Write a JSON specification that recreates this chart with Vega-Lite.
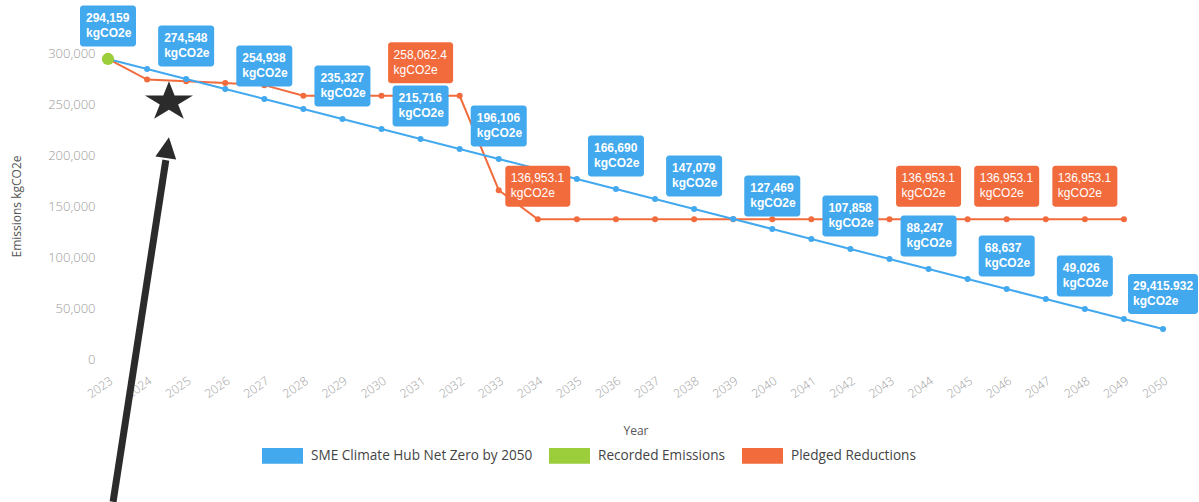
{
  "$schema": "https://vega.github.io/schema/vega-lite/v6.json",
  "autosize": "none",
  "width": 1055,
  "height": 306,
  "padding": {"left": 108, "top": 53, "right": 36, "bottom": 143},
  "background": "white",
  "config": {
    "view": {"stroke": null},
    "axis": {"domain": false, "ticks": false, "tickSize": 0, "grid": false, "labelFont": "Open Sans", "titleFont": "Open Sans", "labelFontWeight": 300, "titleFontWeight": 400},
    "axisX": {"labelOverlap": false, "labelSeparation": 0}
  },
  "datasets": {
    "lines": [
      {"series": "Pledged Reductions", "year": 2023, "value": 294159},
      {"series": "Pledged Reductions", "year": 2024, "value": 274000},
      {"series": "Pledged Reductions", "year": 2025, "value": 272300},
      {"series": "Pledged Reductions", "year": 2026, "value": 270600},
      {"series": "Pledged Reductions", "year": 2027, "value": 268500},
      {"series": "Pledged Reductions", "year": 2028, "value": 258062.4},
      {"series": "Pledged Reductions", "year": 2029, "value": 258062.4},
      {"series": "Pledged Reductions", "year": 2030, "value": 258062.4},
      {"series": "Pledged Reductions", "year": 2031, "value": 258062.4},
      {"series": "Pledged Reductions", "year": 2032, "value": 258062.4},
      {"series": "Pledged Reductions", "year": 2033, "value": 165500},
      {"series": "Pledged Reductions", "year": 2034, "value": 136953.1},
      {"series": "Pledged Reductions", "year": 2035, "value": 136953.1},
      {"series": "Pledged Reductions", "year": 2036, "value": 136953.1},
      {"series": "Pledged Reductions", "year": 2037, "value": 136953.1},
      {"series": "Pledged Reductions", "year": 2038, "value": 136953.1},
      {"series": "Pledged Reductions", "year": 2039, "value": 136953.1},
      {"series": "Pledged Reductions", "year": 2040, "value": 136953.1},
      {"series": "Pledged Reductions", "year": 2041, "value": 136953.1},
      {"series": "Pledged Reductions", "year": 2042, "value": 136953.1},
      {"series": "Pledged Reductions", "year": 2043, "value": 136953.1},
      {"series": "Pledged Reductions", "year": 2044, "value": 136953.1},
      {"series": "Pledged Reductions", "year": 2045, "value": 136953.1},
      {"series": "Pledged Reductions", "year": 2046, "value": 136953.1},
      {"series": "Pledged Reductions", "year": 2047, "value": 136953.1},
      {"series": "Pledged Reductions", "year": 2048, "value": 136953.1},
      {"series": "Pledged Reductions", "year": 2049, "value": 136953.1},
      {"series": "SME Climate Hub Net Zero by 2050", "year": 2023, "value": 294159},
      {"series": "SME Climate Hub Net Zero by 2050", "year": 2024, "value": 284354},
      {"series": "SME Climate Hub Net Zero by 2050", "year": 2025, "value": 274549},
      {"series": "SME Climate Hub Net Zero by 2050", "year": 2026, "value": 264743},
      {"series": "SME Climate Hub Net Zero by 2050", "year": 2027, "value": 254938},
      {"series": "SME Climate Hub Net Zero by 2050", "year": 2028, "value": 245133},
      {"series": "SME Climate Hub Net Zero by 2050", "year": 2029, "value": 235327},
      {"series": "SME Climate Hub Net Zero by 2050", "year": 2030, "value": 225522},
      {"series": "SME Climate Hub Net Zero by 2050", "year": 2031, "value": 215717},
      {"series": "SME Climate Hub Net Zero by 2050", "year": 2032, "value": 205912},
      {"series": "SME Climate Hub Net Zero by 2050", "year": 2033, "value": 196106},
      {"series": "SME Climate Hub Net Zero by 2050", "year": 2034, "value": 186301},
      {"series": "SME Climate Hub Net Zero by 2050", "year": 2035, "value": 176496},
      {"series": "SME Climate Hub Net Zero by 2050", "year": 2036, "value": 166690},
      {"series": "SME Climate Hub Net Zero by 2050", "year": 2037, "value": 156885},
      {"series": "SME Climate Hub Net Zero by 2050", "year": 2038, "value": 147080},
      {"series": "SME Climate Hub Net Zero by 2050", "year": 2039, "value": 137274},
      {"series": "SME Climate Hub Net Zero by 2050", "year": 2040, "value": 127469},
      {"series": "SME Climate Hub Net Zero by 2050", "year": 2041, "value": 117664},
      {"series": "SME Climate Hub Net Zero by 2050", "year": 2042, "value": 107858},
      {"series": "SME Climate Hub Net Zero by 2050", "year": 2043, "value": 98053},
      {"series": "SME Climate Hub Net Zero by 2050", "year": 2044, "value": 88248},
      {"series": "SME Climate Hub Net Zero by 2050", "year": 2045, "value": 78442},
      {"series": "SME Climate Hub Net Zero by 2050", "year": 2046, "value": 68637},
      {"series": "SME Climate Hub Net Zero by 2050", "year": 2047, "value": 58832},
      {"series": "SME Climate Hub Net Zero by 2050", "year": 2048, "value": 49027},
      {"series": "SME Climate Hub Net Zero by 2050", "year": 2049, "value": 39221},
      {"series": "SME Climate Hub Net Zero by 2050", "year": 2050, "value": 29415.932},
      {"series": "Recorded Emissions", "year": 2023, "value": 294159}
    ],
    "labels": [
      {"series": "SME Climate Hub Net Zero by 2050", "year": 2023, "value": 294159, "label": "294,159"},
      {"series": "SME Climate Hub Net Zero by 2050", "year": 2025, "value": 274549, "label": "274,548"},
      {"series": "SME Climate Hub Net Zero by 2050", "year": 2027, "value": 254938, "label": "254,938"},
      {"series": "SME Climate Hub Net Zero by 2050", "year": 2029, "value": 235327, "label": "235,327"},
      {"series": "SME Climate Hub Net Zero by 2050", "year": 2031, "value": 215717, "label": "215,716"},
      {"series": "SME Climate Hub Net Zero by 2050", "year": 2033, "value": 196106, "label": "196,106"},
      {"series": "SME Climate Hub Net Zero by 2050", "year": 2036, "value": 166690, "label": "166,690"},
      {"series": "SME Climate Hub Net Zero by 2050", "year": 2038, "value": 147080, "label": "147,079"},
      {"series": "SME Climate Hub Net Zero by 2050", "year": 2040, "value": 127469, "label": "127,469"},
      {"series": "SME Climate Hub Net Zero by 2050", "year": 2042, "value": 107858, "label": "107,858"},
      {"series": "SME Climate Hub Net Zero by 2050", "year": 2044, "value": 88248, "label": "88,247"},
      {"series": "SME Climate Hub Net Zero by 2050", "year": 2046, "value": 68637, "label": "68,637"},
      {"series": "SME Climate Hub Net Zero by 2050", "year": 2048, "value": 49027, "label": "49,026"},
      {"series": "SME Climate Hub Net Zero by 2050", "year": 2050, "value": 29415.932, "label": "29,415.932"},
      {"series": "Pledged Reductions", "year": 2031, "value": 258062.4, "label": "258,062.4"},
      {"series": "Pledged Reductions", "year": 2034, "value": 136953.1, "label": "136,953.1"},
      {"series": "Pledged Reductions", "year": 2044, "value": 136953.1, "label": "136,953.1"},
      {"series": "Pledged Reductions", "year": 2046, "value": 136953.1, "label": "136,953.1"},
      {"series": "Pledged Reductions", "year": 2048, "value": 136953.1, "label": "136,953.1"}
    ],
    "arrow": [
      {"x1": 2023.13, "y1": -140000, "x2": 2024.48, "y2": 195000}
    ],
    "star": [
      {"year": 2024.56, "value": 252000}
    ],
    "head": [
      {"year": 2024.56, "value": 217400}
    ]
  },
  "layer": [
    {
      "data": {"name": "lines"},
      "transform": [{"filter": "datum.series === 'Pledged Reductions'"}],
      "mark": {"type": "line", "strokeWidth": 2, "point": {"filled": true, "size": 36}},
      "encoding": {
        "x": {"field": "year", "type": "quantitative", "scale": {"domain": [2023, 2050], "nice": false, "zero": false},
          "axis": {"values": [2023,2024,2025,2026,2027,2028,2029,2030,2031,2032,2033,2034,2035,2036,2037,2038,2039,2040,2041,2042,2043,2044,2045,2046,2047,2048,2049,2050], "tickCount": 40, "format": "d", "labelOverlap": false, "labelAngle": -35, "labelFontSize": 12, "labelColor": "#9a9a9a", "labelPadding": 16, "title": "Year", "titleFontSize": 12, "titleColor": "#555", "titlePadding": 26}},
        "y": {"field": "value", "type": "quantitative", "scale": {"domain": [0, 300000], "nice": false},
          "axis": {"values": [0, 50000, 100000, 150000, 200000, 250000, 300000], "format": ",.0f", "labelFontSize": 13, "labelColor": "#9a9a9a", "labelPadding": 13, "title": "Emissions kgCO2e", "titleFontSize": 12, "titleColor": "#555", "titlePadding": 24}},
        "color": {"field": "series", "type": "nominal",
          "scale": {"domain": ["SME Climate Hub Net Zero by 2050", "Recorded Emissions", "Pledged Reductions"], "range": ["#42a9ee", "#9ccd3a", "#f26b3c"]},
          "legend": {"orient": "none", "legendX": 154, "legendY": 382, "direction": "horizontal", "title": null,
            "symbolType": "M-1,-0.38H1V0.38H-1Z", "symbolSize": 1681, "symbolStrokeWidth": 0,
            "labelFont": "Open Sans", "labelFontSize": 13.6, "labelColor": "#444", "labelOffset": 8, "labelLimit": 400, "columnPadding": 16,
            "encode": {"symbols": {"update": {"fill": {"scale": "color", "field": "value"}, "opacity": {"value": 1}}}}}}
      }
    },
    {
      "data": {"name": "lines"},
      "transform": [{"filter": "datum.series === 'SME Climate Hub Net Zero by 2050'"}],
      "mark": {"type": "line", "strokeWidth": 2, "point": {"filled": true, "size": 36}},
      "encoding": {
        "x": {"field": "year", "type": "quantitative"},
        "y": {"field": "value", "type": "quantitative"},
        "color": {"field": "series", "type": "nominal"}
      }
    },
    {
      "data": {"name": "lines"},
      "transform": [{"filter": "datum.series === 'Recorded Emissions'"}],
      "mark": {"type": "point", "filled": true, "size": 150, "opacity": 1},
      "encoding": {
        "x": {"field": "year", "type": "quantitative"},
        "y": {"field": "value", "type": "quantitative"},
        "color": {"field": "series", "type": "nominal"}
      }
    },
    {
      "data": {"name": "labels"},
      "transform": [{"filter": "datum.series === 'SME Climate Hub Net Zero by 2050' && datum.year < 2050"}],
      "mark": {"type": "rect", "width": 56, "height": 41, "yOffset": -33, "cornerRadius": 3, "color": "#42a9ee"},
      "encoding": {"x": {"field": "year", "type": "quantitative"}, "y": {"field": "value", "type": "quantitative"}}
    },
    {
      "data": {"name": "labels"},
      "transform": [{"filter": "datum.series === 'SME Climate Hub Net Zero by 2050' && datum.year == 2050"}],
      "mark": {"type": "rect", "width": 70, "height": 40, "yOffset": -35, "cornerRadius": 3, "color": "#42a9ee"},
      "encoding": {"x": {"field": "year", "type": "quantitative"}, "y": {"field": "value", "type": "quantitative"}}
    },
    {
      "data": {"name": "labels"},
      "transform": [{"filter": "datum.series === 'Pledged Reductions'"}],
      "mark": {"type": "rect", "width": 65, "height": 41, "yOffset": -33, "cornerRadius": 3, "color": "#f26b3c"},
      "encoding": {"x": {"field": "year", "type": "quantitative"}, "y": {"field": "value", "type": "quantitative"}}
    },
    {
      "data": {"name": "labels"},
      "transform": [{"filter": "datum.series === 'SME Climate Hub Net Zero by 2050' && datum.year < 2050"}, {"calculate": "[datum.label, 'kgCO2e']", "as": "txt"}],
      "mark": {"type": "text", "align": "left", "baseline": "middle", "dx": -22, "dy": -8, "yOffset": -33, "font": "Liberation Sans", "fontSize": 12, "fontWeight": "bold", "lineHeight": 15, "color": "white"},
      "encoding": {"x": {"field": "year", "type": "quantitative"}, "y": {"field": "value", "type": "quantitative"}, "text": {"field": "txt"}}
    },
    {
      "data": {"name": "labels"},
      "transform": [{"filter": "datum.series === 'SME Climate Hub Net Zero by 2050' && datum.year == 2050"}, {"calculate": "[datum.label, 'kgCO2e']", "as": "txt"}],
      "mark": {"type": "text", "align": "left", "baseline": "middle", "dx": -30, "dy": -8, "yOffset": -35, "font": "Liberation Sans", "fontSize": 12, "fontWeight": "bold", "lineHeight": 15, "color": "white"},
      "encoding": {"x": {"field": "year", "type": "quantitative"}, "y": {"field": "value", "type": "quantitative"}, "text": {"field": "txt"}}
    },
    {
      "data": {"name": "labels"},
      "transform": [{"filter": "datum.series === 'Pledged Reductions'"}, {"calculate": "[datum.label, 'kgCO2e']", "as": "txt"}],
      "mark": {"type": "text", "align": "left", "baseline": "middle", "dx": -27, "dy": -8, "yOffset": -33, "font": "Liberation Sans", "fontSize": 12, "fontWeight": "normal", "lineHeight": 15, "color": "white"},
      "encoding": {"x": {"field": "year", "type": "quantitative"}, "y": {"field": "value", "type": "quantitative"}, "text": {"field": "txt"}}
    },
    {
      "data": {"name": "arrow"},
      "mark": {"type": "rule", "strokeWidth": 7, "color": "#2b2b2b"},
      "encoding": {"x": {"field": "x1", "type": "quantitative"}, "y": {"field": "y1", "type": "quantitative"}, "x2": {"field": "x2"}, "y2": {"field": "y2"}}
    },
    {
      "data": {"name": "head"},
      "mark": {"type": "point", "shape": "M0,0L0.5,1L-0.5,1Z", "size": 1764, "angle": 8.7, "filled": true, "opacity": 1, "color": "#2b2b2b"},
      "encoding": {"x": {"field": "year", "type": "quantitative"}, "y": {"field": "value", "type": "quantitative"}}
    },
    {
      "data": {"name": "star"},
      "mark": {"type": "point", "shape": "M0,-0.82L0.2245,-0.253L0.951,-0.253L0.363,0.097L0.588,0.663L0,0.313L-0.588,0.663L-0.363,0.097L-0.951,-0.253L-0.2245,-0.253Z", "size": 2550, "filled": true, "opacity": 1, "color": "#2b2b2b"},
      "encoding": {"x": {"field": "year", "type": "quantitative"}, "y": {"field": "value", "type": "quantitative"}}
    }
  ]
}
